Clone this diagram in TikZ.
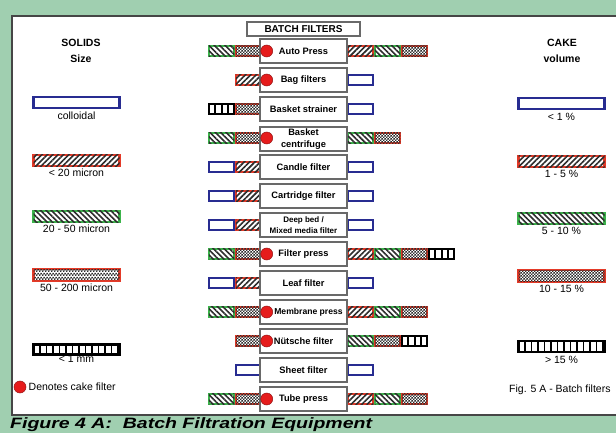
\documentclass[tikz,border=0pt]{standalone}
\usepackage{fontspec}
\setmainfont{Liberation Sans}
\usepackage{graphicx}
\usetikzlibrary{patterns,patterns.meta}
\definecolor{frameg}{RGB}{160,207,176}
\definecolor{borderc}{RGB}{70,70,70}
\definecolor{boxc}{RGB}{105,105,105}
\definecolor{swblue}{RGB}{40,44,145}
\definecolor{swred}{RGB}{228,58,40}
\definecolor{swgreen}{RGB}{60,180,75}
\definecolor{patc}{RGB}{45,45,45}
\definecolor{dotred}{RGB}{230,28,28}
\definecolor{dotdark}{RGB}{150,20,20}
\pgfdeclarepatternformonly{mychk}{\pgfpointorigin}{\pgfqpoint{3.4pt}{3.4pt}}{\pgfqpoint{3.4pt}{3.4pt}}{%
  \pgfpathrectangle{\pgfpointorigin}{\pgfqpoint{1.7pt}{1.7pt}}%
  \pgfpathrectangle{\pgfqpoint{1.7pt}{1.7pt}}{\pgfqpoint{1.7pt}{1.7pt}}%
  \pgfusepath{fill}}
\newcommand\swrow[4]{%
  \foreach \s [count=\k] in {#3} {\node[sw,\s] (#1l\k) at ({248.5-27*(\k-1)},#2) {};}%
  \foreach \s [count=\k] in {#4} {\node[sw,\s] (#1r\k) at ({360.5+27*(\k-1)},#2) {};}%
}
\begin{document}
\begin{tikzpicture}[x=1pt,y=-1pt,
  sw/.style={rectangle,minimum width=25.5pt,minimum height=10.5pt,inner sep=0pt,outer sep=0pt},
  lg/.style={rectangle,minimum width=86pt,minimum height=11.5pt,inner sep=0pt,outer sep=0pt},
  sblue/.style={draw=swblue,line width=2.1pt,fill=white},
  srhatch/.style={draw=swred,line width=2.1pt,fill=white,postaction={pattern={Lines[angle=45,distance=3.8pt,line width=1.6pt]},pattern color=patc}},
  sgreen/.style={draw=swgreen,line width=2.1pt,fill=white,postaction={pattern={Lines[angle=-45,distance=3.8pt,line width=1.6pt]},pattern color=patc}},
  srchk/.style={draw=swred,line width=2.1pt,fill=white,postaction={pattern=mychk,pattern color=patc}},
  sblack/.style={draw=black,line width=2.1pt,fill=white,path picture={%
      \foreach \i in {1,...,14} {\draw[line width=1.6pt,black] ([xshift=\i*6.5pt]path picture bounding box.south west) -- ([xshift=\i*6.5pt]path picture bounding box.north west);}}},
  fbox/.style={rectangle,draw=boxc,line width=1.3pt,fill=white,minimum width=87pt,minimum height=24pt,inner sep=1pt,align=center,font=\bfseries\fontsize{9.3}{11}\selectfont},
  cdot/.style={circle,fill=dotred,draw=dotdark,line width=0.5pt,minimum size=12pt,inner sep=0pt},
  hdr/.style={font=\bfseries\fontsize{10.5}{16}\selectfont,align=center},
  lab/.style={font=\fontsize{10.5}{12}\selectfont,inner sep=0pt}]
\useasboundingbox (0,0) rectangle (616,433);
\clip (0,0) rectangle (616,433);
\fill[frameg] (0,0) rectangle (616,433);
\draw[fill=white,draw=borderc,line width=2pt] (12,16) rectangle (640,415);
% title
\node[rectangle,draw=boxc,line width=1.3pt,fill=white,minimum width=113pt,minimum height=14pt,inner sep=0pt,font=\bfseries\fontsize{10}{12}\selectfont] (title) at (303.5,29) {BATCH FILTERS};
% headers
\node[hdr] (solids) at (81,51) {SOLIDS\\Size};
\node[hdr] (cake) at (562,51) {CAKE\\volume};
% swatches per row (inner -> outer)
\swrow{a}{51}{srchk,sgreen}{srhatch,sgreen,srchk}
\swrow{b}{80}{srhatch}{sblue}
\swrow{c}{109}{srchk,sblack}{sblue}
\swrow{d}{138}{srchk,sgreen}{sgreen,srchk}
\swrow{e}{167}{srhatch,sblue}{sblue}
\swrow{f}{196}{srhatch,sblue}{sblue}
\swrow{g}{225}{srhatch,sblue}{sblue}
\swrow{h}{254}{srchk,sgreen}{srhatch,sgreen,srchk,sblack}
\swrow{i}{283}{srhatch,sblue}{sblue}
\swrow{j}{312}{srchk,sgreen}{srhatch,sgreen,srchk}
\swrow{k}{341}{srchk}{sgreen,srchk,sblack}
\swrow{l}{370}{sblue}{sblue}
\swrow{m}{399}{srchk,sgreen}{srhatch,sgreen,srchk}
% boxes
\node[fbox] (a) at (303.5,51) {Auto Press};
\node[fbox] (b) at (303.5,80) {Bag filters};
\node[fbox] (c) at (303.5,109) {Basket strainer};
\node[fbox,font=\bfseries\fontsize{9.3}{12}\selectfont] (d) at (303.5,139) {Basket\\centrifuge};
\node[fbox] (e) at (303.5,167) {Candle filter};
\node[fbox] (f) at (303.5,196) {Cartridge filter};
\node[fbox,font=\bfseries\fontsize{8}{11}\selectfont] (g) at (303.5,225) {Deep bed /\\Mixed media filter};
\node[fbox] (h) at (303.5,254) {Filter press};
\node[fbox] (i) at (303.5,283) {Leaf filter};
\node[fbox,font=\bfseries\fontsize{8.6}{11}\selectfont] (j) at (303.5,312) {\hspace*{10pt}Membrane press};
\node[fbox] (k) at (303.5,341) {Nütsche filter};
\node[fbox] (l) at (303.5,370) {Sheet filter};
\node[fbox] (m) at (303.5,399) {Tube press};
% cake filter dots
\foreach \n/\y in {a/51,b/80,d/138,h/254,j/312,k/341,m/399} {\node[cdot] (dot\n) at (266.7,\y) {};}
% left legend
\node[lg,sblue] (ls1) at (76.5,102.5) {};
\node[lab] (lt1) at (76.5,115.5) {colloidal};
\node[lg,srhatch] (ls2) at (76.5,160.5) {};
\node[lab] (lt2) at (76.5,172.5) {< 20 micron};
\node[lg,sgreen] (ls3) at (76.5,216.5) {};
\node[lab] (lt3) at (76.5,229) {20 - 50 micron};
\node[lg,srchk] (ls4) at (76.5,275) {};
\node[lab] (lt4) at (76.5,287.5) {50 - 200 micron};
\node[lg,sblack,minimum height=10pt] (ls5) at (76.5,349.5) {};
\node[lab] (lt5) at (76.5,359) {< 1 mm};
\node[cdot] (ldot) at (20,387) {};
\node[lab,anchor=west] (ldt) at (28.5,387) {Denotes cake filter};
% right legend
\node[lg,sblue] (rs1) at (561.5,103.5) {};
\node[lab] (rt1) at (561.5,116.5) {< 1 \%};
\node[lg,srhatch] (rs2) at (561.5,161.5) {};
\node[lab] (rt2) at (561.5,174) {1 - 5 \%};
\node[lg,sgreen] (rs3) at (561.5,218.5) {};
\node[lab] (rt3) at (561.5,231) {5 - 10 \%};
\node[lg,srchk] (rs4) at (561.5,276) {};
\node[lab] (rt4) at (561.5,288.5) {10 - 15 \%};
\node[lg,sblack] (rs5) at (561.5,346.5) {};
\node[lab] (rt5) at (561.5,360) {> 15 \%};
\node[lab,anchor=west] (fig5) at (509,390) {Fig. 5 A - Batch filters};
% caption
\node[anchor=base west,inner sep=0pt,font=\bfseries\itshape\fontsize{15}{15}\selectfont] (cap) at (10,428) {\scalebox{1.3}[1]{Figure 4 A:\ \ Batch Filtration Equipment}};
\end{tikzpicture}
\end{document}
